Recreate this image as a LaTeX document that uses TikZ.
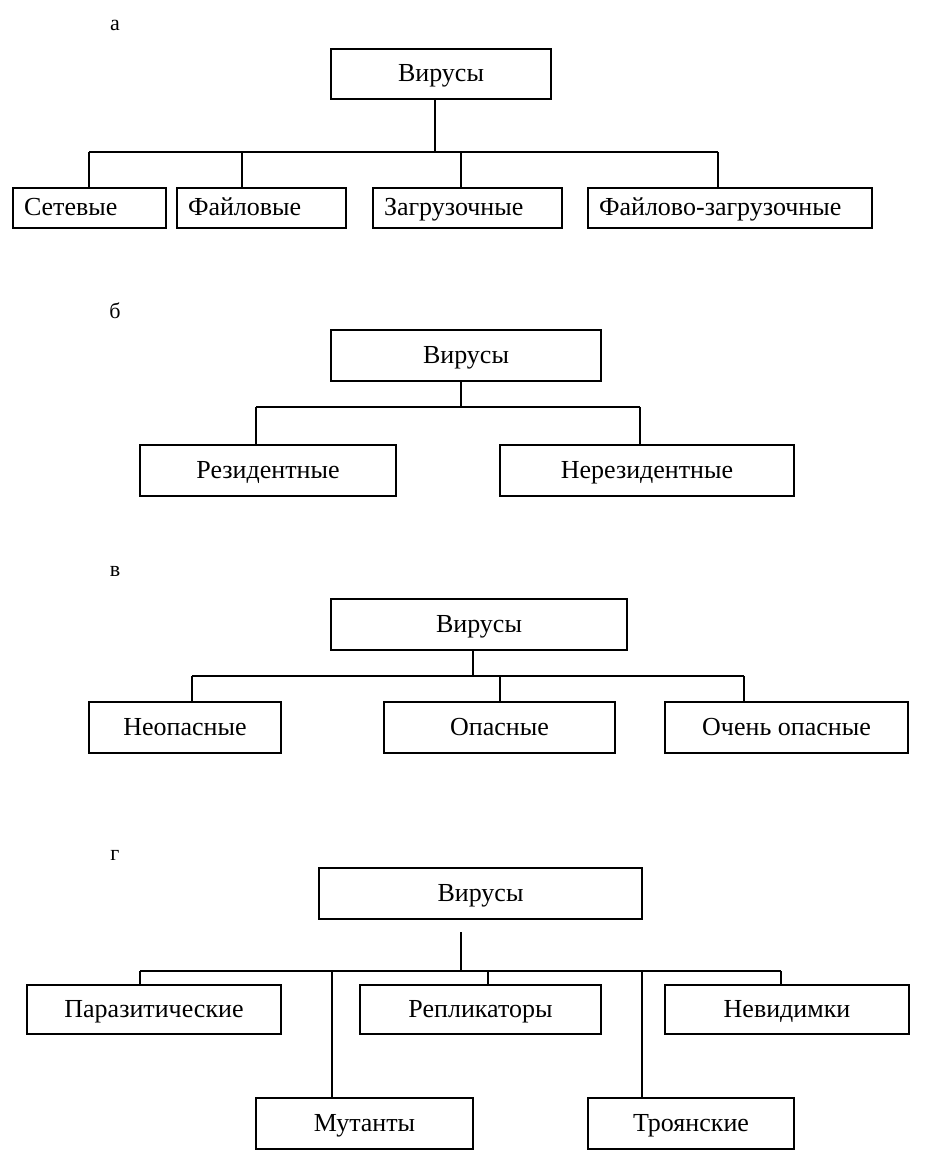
\documentclass[tikz,border=0pt]{standalone}
\usepackage{fontspec}
\setmainfont{Liberation Serif}
\begin{document}
\begin{tikzpicture}[x=1pt,y=-1pt,
  box/.style={draw=black,line width=1.4pt,inner ysep=0pt,inner xsep=0pt,font=\fontsize{26}{28}\selectfont,anchor=center,text height=18pt,text depth=2pt},
  lbox/.style={box,align=left,inner xsep=11pt},
  conn/.style={draw=black,line width=1.2pt},
  lab/.style={font=\fontsize{22}{24}\selectfont,inner sep=0pt}]
\useasboundingbox[fill=white] (0,0) rectangle (927,1158);

% ---------- а ----------
\node[lab] (la) at (115,25) {а};
\node[box,minimum width=220,minimum height=50] (va) at (441,74) {Вирусы};
\node[lbox,text width=131,minimum height=40] (a1) at (89.5,208) {Сетевые};
\node[lbox,text width=147,minimum height=40] (a2) at (261.5,208) {Файловые};
\node[lbox,text width=167,minimum height=40] (a3) at (467.5,208) {Загрузочные};
\node[lbox,text width=262,minimum height=40] (a4) at (730,208) {Файлово-загрузочные};
\coordinate (aj) at (435,152);
\coordinate (aL) at (89,152);
\coordinate (a2j) at (242,152);
\coordinate (a3j) at (461,152);
\coordinate (aR) at (718,152);
\draw[conn] (aj |- va.south) -- (aj);
\draw[conn] (aL) -- (aR);
\draw[conn] (aL) -- (aL |- a1.north);
\draw[conn] (a2j) -- (a2j |- a2.north);
\draw[conn] (a3j) -- (a3j |- a3.north);
\draw[conn] (aR) -- (aR |- a4.north);

% ---------- б ----------
\node[lab] (lb) at (115,311) {б};
\node[box,minimum width=270,minimum height=51] (vb) at (466,355.5) {Вирусы};
\node[box,minimum width=256,minimum height=51] (b1) at (268,470.5) {Резидентные};
\node[box,minimum width=294,minimum height=51] (b2) at (647,470.5) {Нерезидентные};
\coordinate (bj) at (461,407);
\coordinate (bL) at (256,407);
\coordinate (bR) at (640,407);
\draw[conn] (bj |- vb.south) -- (bj);
\draw[conn] (bL) -- (bR);
\draw[conn] (bL) -- (bL |- b1.north);
\draw[conn] (bR) -- (bR |- b2.north);

% ---------- в ----------
\node[lab] (lc) at (115,571) {в};
\node[box,minimum width=296,minimum height=51] (vc) at (479,624.5) {Вирусы};
\node[box,minimum width=192,minimum height=51] (c1) at (185,727.5) {Неопасные};
\node[box,minimum width=231,minimum height=51] (c2) at (499.5,727.5) {Опасные};
\node[box,minimum width=243,minimum height=51] (c3) at (786.5,727.5) {Очень опасные};
\coordinate (cj) at (473,676);
\coordinate (cL) at (192,676);
\coordinate (cM) at (500,676);
\coordinate (cR) at (744,676);
\draw[conn] (cj |- vc.south) -- (cj);
\draw[conn] (cL) -- (cR);
\draw[conn] (cL) -- (cL |- c1.north);
\draw[conn] (cM) -- (cM |- c2.north);
\draw[conn] (cR) -- (cR |- c3.north);

% ---------- г ----------
\node[lab] (ld) at (115,855) {г};
\node[box,minimum width=323,minimum height=51] (vd) at (480.5,893.5) {Вирусы};
\node[box,minimum width=254,minimum height=49] (d1) at (154,1009.5) {Паразитические};
\node[box,minimum width=241,minimum height=49] (d3) at (480.5,1009.5) {Репликаторы};
\node[box,minimum width=244,minimum height=49] (d5) at (787,1009.5) {Невидимки};
\node[box,minimum width=217,minimum height=51] (d2) at (364.5,1123.5) {Мутанты};
\node[box,minimum width=206,minimum height=51] (d4) at (691,1123.5) {Троянские};
\coordinate (dtop) at (461,932);
\coordinate (dj) at (461,971);
\coordinate (dL) at (140,971);
\coordinate (d2j) at (332,971);
\coordinate (d3j) at (488,971);
\coordinate (d4j) at (642,971);
\coordinate (dR) at (781,971);
\draw[conn] (dtop) -- (dj);
\draw[conn] (dL) -- (dR);
\draw[conn] (dL) -- (dL |- d1.north);
\draw[conn] (d2j) -- (d2j |- d2.north);
\draw[conn] (d3j) -- (d3j |- d3.north);
\draw[conn] (d4j) -- (d4j |- d4.north);
\draw[conn] (dR) -- (dR |- d5.north);
\end{tikzpicture}
\end{document}
